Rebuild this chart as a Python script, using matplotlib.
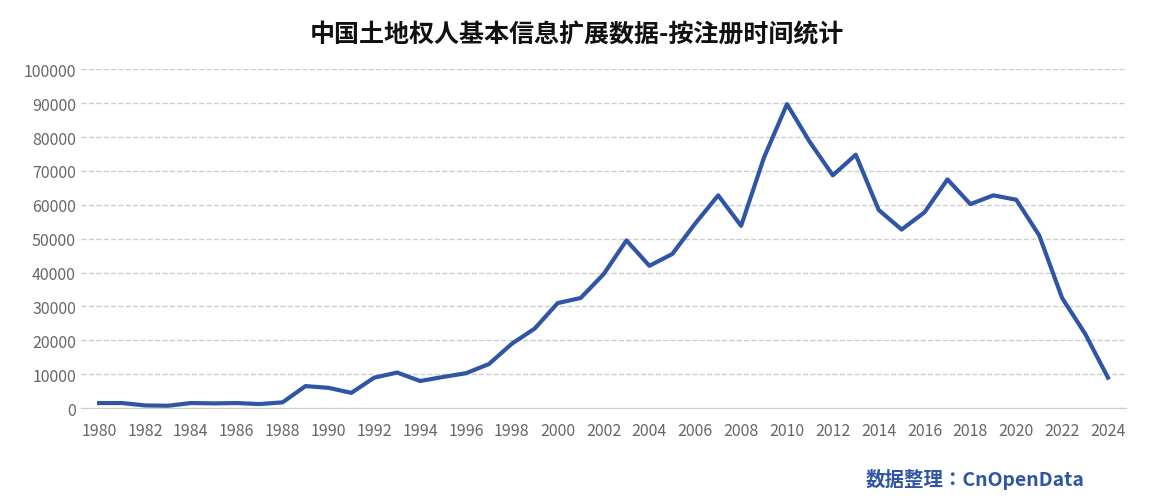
import matplotlib
matplotlib.use("Agg")
import matplotlib.pyplot as plt
from matplotlib import font_manager as fm

years = list(range(1980, 2025))
values = [1500,1500,800,700,1500,1400,1500,1200,1700,6500,6000,4500,9000,10500,8000,9200,10300,13000,
          19000,23500,31000,32500,39500,49500,42000,45500,54500,62800,53800,74000,89700,78500,68700,74800,
          58500,52700,57800,67500,60200,62800,61500,51000,32500,22000,9000]
title = "中国土地权人基本信息扩展数据-按注册时间统计"
source = "数据整理：CnOpenData"

cjk = None
for f in fm.fontManager.ttflist:
    if "CJK" in f.name and "SC" in f.name:
        cjk = f.name
        break
if cjk is None:
    for f in fm.fontManager.ttflist:
        if "CJK" in f.name:
            cjk = f.name
            break
plt.rcParams["font.family"] = [cjk or "Noto Sans CJK SC", "DejaVu Sans"]

fig = plt.figure(figsize=(11.54, 5.02), dpi=100)
ax = fig.add_axes([0.07, 0.185, 0.906, 0.675])
ax.plot(years, values, color="#2f55a4", lw=3)
ax.set_xlim(1979.2, 2024.8)
ax.set_ylim(0, 100000)
ax.set_yticks(range(0, 100001, 10000))
ax.set_xticks(range(1980, 2025, 2))
ax.tick_params(colors="#666666", labelsize=11.5, length=0)
ax.tick_params(axis="x", pad=10)
ax.grid(axis="y", ls="--", color="#cccccc", lw=1)
for s in ["top", "right", "left"]:
    ax.spines[s].set_visible(False)
ax.spines["bottom"].set_color("#cccccc")
ax.set_axisbelow(True)
fig.text(0.5, 0.93, title, ha="center", va="center", fontsize=18, fontweight="bold", color="#111111")
fig.text(0.94, 0.045, source, ha="right", va="center", fontsize=14, fontweight="bold", color="#2f55a4")
fig.savefig("out.png")
